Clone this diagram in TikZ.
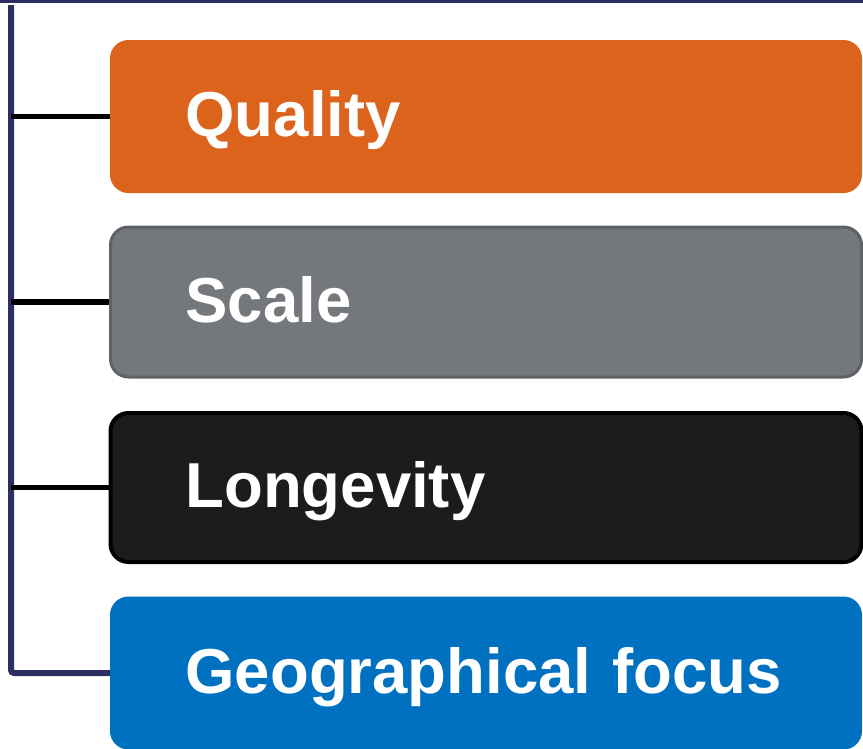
\documentclass[tikz,border=0pt]{standalone}
\usepackage{fontspec}
\setmainfont{Liberation Sans}
\usetikzlibrary{positioning}

\definecolor{navy}{RGB}{44,46,100}
\definecolor{qualorange}{RGB}{220,99,28}
\definecolor{scalegrey}{RGB}{116,119,123}
\definecolor{scaleedge}{RGB}{94,97,101}
\definecolor{longblack}{RGB}{28,28,28}
\definecolor{geoblue}{RGB}{0,113,193}

\begin{document}
\begin{tikzpicture}[
		x=1pt,y=-1pt,
		node distance=32.5pt,
		item/.style={rectangle, rounded corners=18pt, minimum width=751pt,
			text width=601pt, inner xsep=75pt, align=left, text=white,
			text height=45pt, text depth=5pt,
			font=\fontsize{63.5}{70}\selectfont\bfseries},
		trunk/.style={draw=navy, line width=6pt, rounded corners=3pt},
		branch/.style={draw=black, line width=5.5pt}
	]
	\useasboundingbox (0,0) rectangle (863,748);

	% the four boxes, stacked (outer height 153 each)
	\node[item, fill=qualorange, draw=qualorange, line width=1pt, minimum height=152pt, anchor=north west] (quality) at (110,40) {Quality};
	\node[item, fill=scalegrey, draw=scaleedge, line width=3pt, minimum height=150pt, below=of quality] (scale) {Scale};
	\node[item, fill=longblack, draw=black, line width=4pt, minimum height=149pt, below=of scale] (longevity) {Longevity};
	\node[item, fill=geoblue, draw=geoblue, line width=1pt, minimum height=152pt, below=of longevity] (geo) {Geographical focus};

	% rule along the top
	\coordinate (ruleL) at (0,1.2);
	\coordinate (ruleR) at (863,1.2);
	\draw[navy, line width=2.6pt] (ruleL) -- (ruleR);

	% trunk and branches
	\coordinate (top) at (11,5);
	\draw[trunk] (top) |- (geo.west);
	\draw[branch] (top |- quality.west) -- (quality.west);
	\draw[branch] (top |- scale.west) -- (scale.west);
	\draw[branch] (top |- longevity.west) -- (longevity.west);
\end{tikzpicture}
\end{document}
